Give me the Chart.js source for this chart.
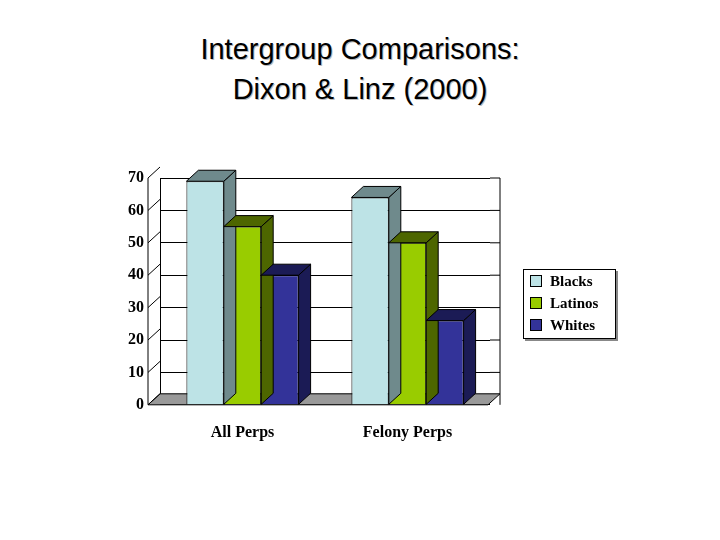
<!DOCTYPE html>
<html><head><meta charset="utf-8">
<script src="https://cdn.jsdelivr.net/npm/chart.js@4"></script>
<style>
body{margin:0;background:#fff;width:720px;height:540px;overflow:hidden;position:relative}
#wrap{position:absolute;left:0;top:0;width:720px;height:540px}
#title{position:absolute;left:0;top:29px;width:720px;text-align:center;font:29px "Liberation Sans",Arial,sans-serif;line-height:40px;color:#000;text-shadow:1px 1px 0 #bbb}
#legend{position:absolute;left:523px;top:269px;width:91px;height:68px;border:1px solid #000;box-shadow:2px 2px 0 #888;background:#fff;font:bold 15px "Liberation Serif","Times New Roman",serif}
#legend div{height:22px;line-height:22px;padding-left:6px;display:flex;align-items:center}
#legend span{display:inline-block;width:10px;height:10px;border:1px solid #000;margin-right:8px}
</style></head><body>
<div id="title">Intergroup Comparisons:<br>Dixon &amp; Linz (2000)</div>
<div id="wrap"><canvas id="c" width="720" height="540"></canvas></div>
<div id="legend"></div>
<script>
const categories = ["All Perps", "Felony Perps"];
const seriesNames = ["Blacks", "Latinos", "Whites"];
const blacks = [69, 64];
const latinos = [55, 50];
const whites = [40, 26];
const yTicks = [0, 10, 20, 30, 40, 50, 60, 70];
const colors = ["#bde3e6", "#99cc00", "#333399"];
const sideColors = ["#6f8a8c", "#4d6600", "#1b1b55"];

const lg = document.getElementById('legend');
seriesNames.forEach((n,i)=>{const d=document.createElement('div');d.innerHTML='<span style="background:'+colors[i]+'"></span>'+n;lg.appendChild(d);});

const DX=12, DY=-11;
const threeD = {
  id:'threeD',
  beforeDatasetsDraw(chart){
    const {ctx, chartArea:a, scales:{y}} = chart;
    const y0=y.getPixelForValue(0);
    ctx.save();
    ctx.strokeStyle='#000';ctx.lineWidth=1;
    ctx.beginPath();
    yTicks.forEach(v=>{if(v>0){const p=y.getPixelForValue(v);ctx.moveTo(a.right,p);ctx.lineTo(a.right+10,p);}});
    ctx.moveTo(a.right+10,y.getPixelForValue(70));ctx.lineTo(a.right+10,y0);
    ctx.stroke();
    ctx.fillStyle='#999';
    ctx.beginPath();ctx.moveTo(a.left-DX,y0);ctx.lineTo(a.right-DX+10,y0);ctx.lineTo(a.right+10,y0+DY);ctx.lineTo(a.left,y0+DY);ctx.closePath();ctx.fill();ctx.stroke();
    ctx.beginPath();
    yTicks.forEach(v=>{const p=y.getPixelForValue(v);ctx.moveTo(a.left-DX,p);ctx.lineTo(a.left,p+DY);});
    ctx.moveTo(a.left-DX,y.getPixelForValue(70));ctx.lineTo(a.left-DX,y0);
    ctx.stroke();
    ctx.restore();
  },
  afterDatasetsDraw(chart){
    const {ctx}=chart;
    ctx.save();ctx.strokeStyle='#000';ctx.lineWidth=1;
    chart.data.datasets.forEach((ds,i)=>{
      chart.getDatasetMeta(i).data.forEach(b=>{
        const l=b.x-b.width/2, r=b.x+b.width/2, t=b.y, bt=b.base;
        ctx.fillStyle=sideColors[i];
        ctx.beginPath();ctx.moveTo(r,t);ctx.lineTo(r+DX,t+DY);ctx.lineTo(r+DX,bt+DY);ctx.lineTo(r,bt);ctx.closePath();ctx.fill();ctx.stroke();
        ctx.beginPath();ctx.moveTo(l,t);ctx.lineTo(l+DX,t+DY);ctx.lineTo(r+DX,t+DY);ctx.lineTo(r,t);ctx.closePath();ctx.fill();ctx.stroke();
      });
    });
    ctx.restore();
  }
};

new Chart(document.getElementById('c'),{
  type:'bar',
  data:{labels:categories,datasets:[
    {label:seriesNames[0],data:blacks,backgroundColor:colors[0],borderColor:'#000',borderWidth:1},
    {label:seriesNames[1],data:latinos,backgroundColor:colors[1],borderColor:'#000',borderWidth:1},
    {label:seriesNames[2],data:whites,backgroundColor:colors[2],borderColor:'#000',borderWidth:1}]},
  options:{responsive:false,animation:false,
    layout:{padding:{left:112,right:230,top:178,bottom:88}},
    plugins:{legend:{display:false},tooltip:{enabled:false}},
    datasets:{bar:{categoryPercentage:0.68,barPercentage:1}},
    scales:{
      x:{offset:true,grid:{display:false},border:{display:false},
        ticks:{color:'#000',font:{family:'"Liberation Serif","Times New Roman",serif',weight:'bold',size:16},padding:10}},
      y:{min:0,max:70,afterBuildTicks(ax){ax.ticks=yTicks.map(v=>({value:v}));},
        grid:{color:'#000',drawTicks:false},border:{display:true,color:'#000'},
        ticks:{color:'#000',font:{family:'"Liberation Serif","Times New Roman",serif',weight:'bold',size:16},padding:16}}
    }},
  plugins:[threeD]
});
</script></body></html>
